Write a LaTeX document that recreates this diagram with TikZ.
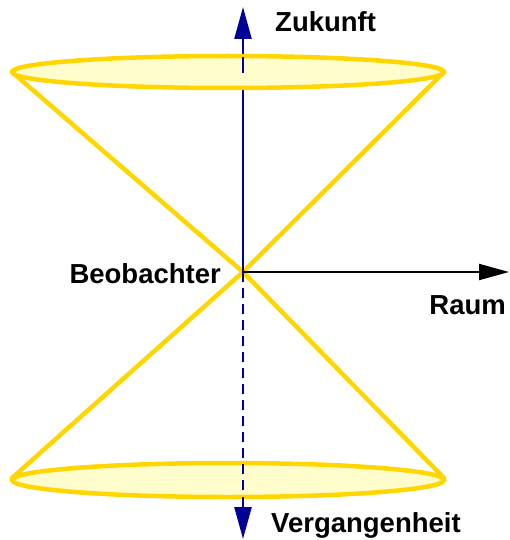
\documentclass[tikz,border=0pt]{standalone}
\usepackage{fontspec}
\setmainfont{Liberation Sans}
\usetikzlibrary{arrows.meta}
\definecolor{conegold}{RGB}{255,214,0}
\definecolor{conefill}{RGB}{255,253,204}
\definecolor{axisblue}{RGB}{0,0,150}
\tikzset{
  cone/.style={draw=conegold, line width=4.5pt, line join=round, line cap=round},
  disc/.style={draw=conegold, fill=conefill, line width=4.5pt},
  timeaxis/.style={draw=axisblue, line width=2.5pt},
  blueend/.style={-{Triangle[length=32pt,width=17pt]}},
  lbl/.style={font=\fontsize{27.5}{31}\selectfont\bfseries, text=black, inner sep=0pt}
}
\begin{document}
\begin{tikzpicture}[x=1pt,y=-1pt]
\useasboundingbox (0,0) rectangle (510,540);
% key points
\coordinate (O) at (243,272);
\coordinate (TL) at (12,72);
\coordinate (TR) at (444,72);
\coordinate (BL) at (12,478);
\coordinate (BR) at (444,478);
\coordinate (top) at (243,7);
\coordinate (bot) at (243,539);
\coordinate (right) at (509,272);
\coordinate (tin1) at (243,73);
\coordinate (tin2) at (243,57);
\coordinate (bin1) at (243,492);
\coordinate (bin2) at (243,497);
% cone lines
\draw[cone] (TL) -- (O) -- (BR);
\draw[cone] (TR) -- (O) -- (BL);
% time axis
\draw[timeaxis, blueend] (O) -- (top);
\draw[timeaxis, dash pattern=on 10pt off 6pt] (O) -- (bin1);
% discs
\draw[disc] (228,72) ellipse [x radius=216, y radius=16];
\draw[disc] (228,480) ellipse [x radius=216, y radius=17];
% axis over the discs
\draw[timeaxis] (tin1) -- (tin2);
\draw[timeaxis, dash pattern=on 10pt off 6pt] (243,464) -- (bin1);
\draw[timeaxis, blueend] (bin2) -- (bot);
% space axis
\draw[line width=2pt, -{Triangle[length=30pt,width=16pt]}] (O) -- (right);
% labels
\node[lbl, anchor=west] (zuk) at (275,22) {Zukunft};
\node[lbl, anchor=east] (beo) at (221,274) {Beobachter};
\node[lbl, anchor=east] (raum) at (506,305) {Raum};
\node[lbl, anchor=west] (verg) at (271,525) {Vergangenheit};
\end{tikzpicture}
\end{document}
